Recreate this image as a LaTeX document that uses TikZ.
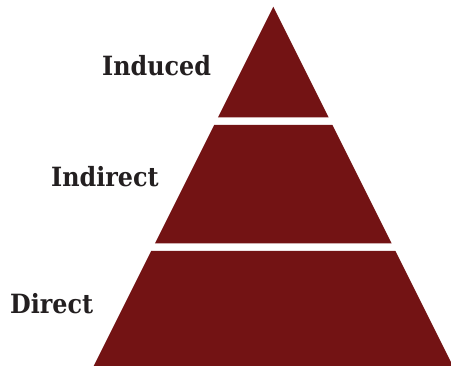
\documentclass[tikz,border=0pt]{standalone}
\usepackage{fontspec}
\setmainfont{DejaVu Serif Condensed}
\definecolor{pyr}{RGB}{115,19,20}
\definecolor{txt}{RGB}{35,31,32}
\begin{document}
\begin{tikzpicture}[x=1pt,y=-1pt,
  band/.style={fill=pyr,draw=none},
  lbl/.style={anchor=base west,inner sep=0pt,text=txt,font=\bfseries\fontsize{26.5}{30}\selectfont}]
\useasboundingbox (0,0) rectangle (451,366);
\begin{scope}
\clip (0,0) rectangle (451,366);
\fill[band] (273.3,6.7) -- (328.7,117.5) -- (217.9,117.5) -- cycle;
\fill[band] (214.15,125) -- (332.45,125) -- (391.7,243.5) -- (154.9,243.5) -- cycle;
\fill[band] (151.15,251) -- (395.45,251) -- (452.95,366) -- (93.65,366) -- cycle;
\end{scope}
\node[lbl] (induced) at (102,76) {Induced};
\node[lbl] (indirect) at (51,186.5) {Indirect};
\node[lbl] (direct) at (10,314) {Direct};
\end{tikzpicture}
\end{document}
